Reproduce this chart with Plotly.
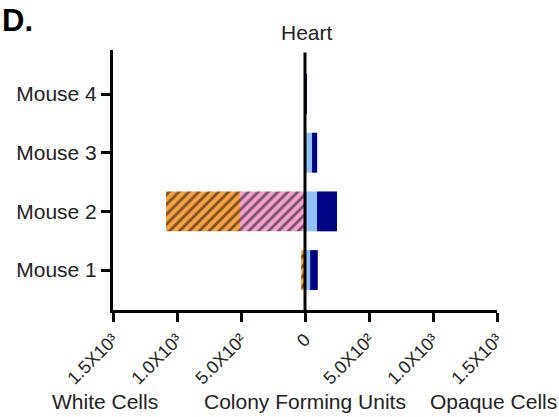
import plotly.graph_objects as go

# Colony forming units recovered from heart tissue, per mouse
mice = ["Mouse 1", "Mouse 2", "Mouse 3", "Mouse 4"]

# White cells (plotted to the left of zero)
white_pink = [0, 508, 0, 0]
white_orange = [30, 578, 0, 0]

# Opaque cells (plotted to the right of zero)
opaque_light = [40, 94, 55, 4]
opaque_navy = [60, 156, 40, 8]

tick_vals = [-1500, -1000, -500, 0, 500, 1000, 1500]
tick_text = ["1.5X10³", "1.0X10³", "5.0X10²", "0", "5.0X10²", "1.0X10³", "1.5X10³"]

FONT = "Liberation Sans, Arial, sans-serif"
ORANGE = "#F7A345"
PINK = "#F4A3CF"
LIGHT = "#92C1F8"
NAVY = "#000482"

hatch = dict(shape="/", fgcolor="black", size=7, solidity=0.4)

fig = go.Figure()
fig.add_trace(go.Bar(
    y=mice, x=[-v for v in white_pink], orientation="h", width=0.68,
    marker=dict(color=PINK, line=dict(width=0),
                pattern=dict(hatch, bgcolor=PINK)),
))
fig.add_trace(go.Bar(
    y=mice, x=[-v for v in white_orange], orientation="h", width=0.68,
    marker=dict(color=ORANGE, line=dict(width=0),
                pattern=dict(hatch, bgcolor=ORANGE)),
))
fig.add_trace(go.Bar(
    y=mice, x=opaque_light, orientation="h", width=0.68,
    marker=dict(color=LIGHT, line=dict(width=0)),
))
fig.add_trace(go.Bar(
    y=mice, x=opaque_navy, orientation="h", width=0.68,
    marker=dict(color=NAVY, line=dict(width=0)),
))

# Vertical line at zero separating white and opaque counts
fig.add_shape(type="line", xref="x", yref="paper", x0=0, x1=0, y0=0, y1=0.99,
              line=dict(color="black", width=3), layer="above")

annotations = [
    dict(text="Heart", x=0.505, y=1.0, xref="paper", yref="paper",
         yanchor="bottom", yshift=4, showarrow=False, font=dict(size=21)),
    dict(text="<b>D.</b>", x=-0.295, y=1.0, xref="paper", yref="paper",
         xanchor="left", yanchor="bottom", yshift=10, showarrow=False,
         font=dict(size=31, color="black")),
    dict(text="White Cells", x=-0.02, y=0, xref="paper", yref="paper",
         xanchor="center", yanchor="middle", yshift=-91, showarrow=False,
         font=dict(size=21)),
    dict(text="Colony Forming Units", x=0.5, y=0, xref="paper", yref="paper",
         xanchor="center", yanchor="middle", yshift=-91, showarrow=False,
         font=dict(size=21)),
    dict(text="Opaque Cells", x=0.99, y=0, xref="paper", yref="paper",
         xanchor="center", yanchor="middle", yshift=-91, showarrow=False,
         font=dict(size=21)),
]

fig.update_layout(
    width=559, height=417,
    margin=dict(l=113, r=62, t=50, b=107),
    barmode="relative",
    showlegend=False,
    plot_bgcolor="white", paper_bgcolor="white",
    font=dict(family=FONT, color="#222222", size=21),
    annotations=annotations,
    xaxis=dict(
        range=[-1500, 1500], tickvals=tick_vals, ticktext=tick_text,
        tickangle=-45, tickfont=dict(size=18),
        showline=True, linecolor="black", linewidth=3,
        ticks="outside", ticklen=9, tickwidth=3, tickcolor="black",
        showgrid=False, zeroline=False,
    ),
    yaxis=dict(
        type="category", range=[-0.68, 3.75],
        showline=True, linecolor="black", linewidth=3,
        ticks="outside", ticklen=9, tickwidth=3, tickcolor="black",
        showgrid=False, zeroline=False, tickfont=dict(size=21),
    ),
)

fig.write_html("out.html")
